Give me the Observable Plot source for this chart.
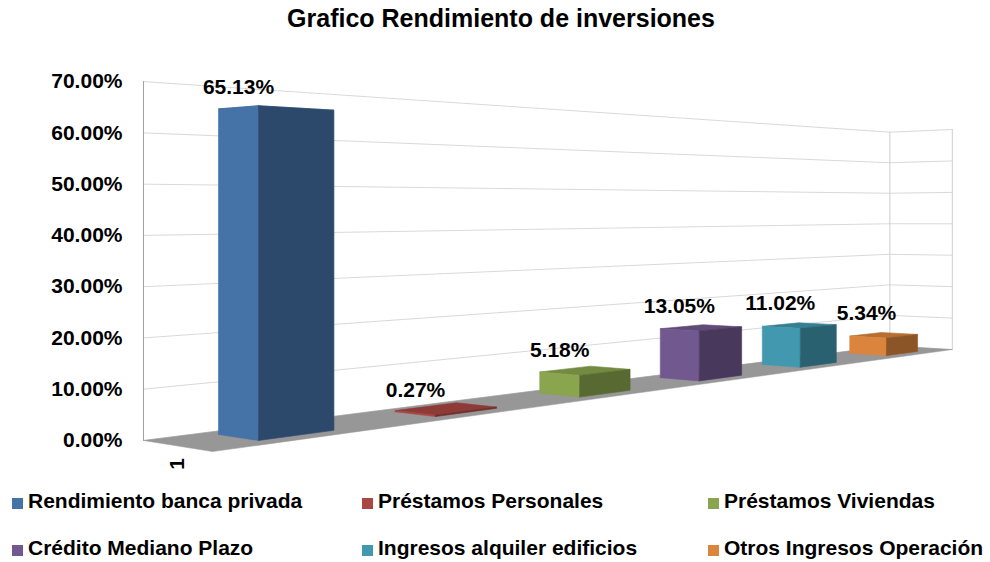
<!DOCTYPE html>
<html><head><meta charset="utf-8">
<script src="https://cdn.jsdelivr.net/npm/d3@7"></script>
<script src="https://cdn.jsdelivr.net/npm/@observablehq/plot@0.6"></script>
<style>
body{margin:0;background:#fff;font-family:"Liberation Sans",Arial,sans-serif;}
#wrap{position:relative;width:990px;height:562px;overflow:hidden;background:#fff;}
#title{position:absolute;left:0;width:1002px;top:6px;text-align:center;font-weight:bold;font-size:25px;line-height:25px;color:#000;}
#chart{position:absolute;left:0;top:40px;}
.lg{position:absolute;font-weight:bold;font-size:21px;line-height:21px;white-space:nowrap;color:#000;}
.sw{position:absolute;width:11px;height:11px;}
</style></head><body>
<div id="wrap"><div id="title">Grafico Rendimiento de inversiones</div><div id="chart"></div><div id="legend"></div></div>
<script>
// ---- data ----
const series = ["Rendimiento banca privada", "Préstamos Personales", "Préstamos Viviendas",
                "Crédito Mediano Plazo", "Ingresos alquiler edificios", "Otros Ingresos Operación"];
const values = [65.13, 0.27, 5.18, 13.05, 11.02, 5.34];
const colors = ["#4572A7", "#AA4643", "#89A54E", "#71588F", "#4198AF", "#DB843D"];
const yTicks = [0, 10, 20, 30, 40, 50, 60, 70];
const categories = ["1"];

// ---- 3D camera (layout) ----
const cam = {x0: 258, axT: 226.6, axV: -33.9, y0: 440, ayT: 23.5, ayV: 6.2, k: 5.14, cT: 0.114, cV: 0.028};
function proj(T, V, H) {
  const w = 1 + cam.cT * T + cam.cV * V;
  return [(cam.x0 + cam.axT * T + cam.axV * V) / w, (cam.y0 + cam.ayT * T + cam.ayV * V - cam.k * H) / w];
}
const svgTop = 40, svgH = 435;
const T0f = -0.306, T1f = 5.67, Vf = -0.4, Vb = 1.337;
const barW = 0.4, barD = 1;
const e0 = proj(T0f, Vb, 0), e70 = proj(T0f, Vb, 70);
const kEdge = (e0[1] - e70[1]) / 70;
const toH = yPage => (e0[1] - yPage) / kEdge;
function pt(T, V, H) { const p = proj(T, V, H); return {x: p[0], y: toH(p[1])}; }

const marks = [];
// wall gridlines
const grid = yTicks.flatMap(h => [pt(T0f, Vb, h), pt(T1f, Vb, h), pt(T1f, Vf, h)].map(p => ({...p, h})));
marks.push(Plot.line(grid, {x: "x", y: "y", z: "h", stroke: "#d9d9d9", strokeWidth: 1}));
const edgesR = [[T1f, Vb], [T1f, Vf]].flatMap(([T, V], j) => [0, 70].map(h => ({...pt(T, V, h), e: j})));
marks.push(Plot.line(edgesR, {x: "x", y: "y", z: "e", stroke: "#cfcfcf", strokeWidth: 1}));
const edgeL = [0, 70].map(h => pt(T0f, Vb, h));
marks.push(Plot.line(edgeL, {x: "x", y: "y", stroke: "#a0a0a0", strokeWidth: 1}));
// floor
const floor = [[T0f, Vf], [T1f, Vf], [T1f, Vb], [T0f, Vb], [T0f, Vf]].map(([T, V]) => pt(T, V, 0));
marks.push(Plot.line(floor, {x: "x", y: "y", fill: "#979797", stroke: "#979797", strokeWidth: 0.5}));
// bars, far to near
for (let i = values.length - 1; i >= 0; i--) {
  const H = values[i], A = i, B = i + barW, c = d3.color(colors[i]);
  const topC = c.darker(0.5).formatHex(), sideC = c.darker(1.25).formatHex(), lightC = c.formatHex();
  const faces = [
    {f: "top", fill: topC, pts: [[A, 0, H], [B, 0, H], [B, barD, H], [A, barD, H]]},
    {f: "left", fill: lightC, pts: [[A, barD, 0], [A, 0, 0], [A, 0, H], [A, barD, H]]},
    {f: "front", fill: sideC, pts: [[A, 0, 0], [B, 0, 0], [B, 0, H], [A, 0, H]]}
  ];
  const rows = faces.flatMap(fc => [...fc.pts, fc.pts[0]].map(([T, V, h]) => ({...pt(T, V, h), face: fc.f, fill: fc.fill})));
  marks.push(Plot.line(rows, {x: "x", y: "y", z: "face", fill: "fill", stroke: "fill", strokeWidth: 0.6}));
}
// data labels
const labelTop = e70[1] + 6;
const labels = values.map((v, i) => {
  const p = proj(i, 0, v);
  return {x: p[0] - 20, y: toH(Math.max(p[1] - 25, labelTop)), text: v.toFixed(2) + "%"};
});
marks.push(Plot.text(labels, {x: "x", y: "y", text: "text", fontSize: 21, fontWeight: "bold", fill: "#000"}));
// category label
const cp = proj(T0f, (Vf + Vb) / 2, 0);
marks.push(Plot.text(categories, {x: () => cp[0], y: () => toH(cp[1] + 18), text: d => d, rotate: -90, fontSize: 21, fontWeight: "bold", fill: "#000"}));
// y axis
marks.push(Plot.axisY({ticks: yTicks, tickSize: 0, tickPadding: 21, tickFormat: d => d.toFixed(2) + "%", fontSize: 21, fontWeight: "bold", fill: "#000", label: null}));

const chart = Plot.plot({
  width: 990, height: svgH,
  marginLeft: Math.round(e0[0]), marginRight: 0, marginTop: 0, marginBottom: 0,
  x: {type: "linear", domain: [0, 990], range: [0, 990], axis: null},
  y: {type: "linear", domain: [0, 70], range: [e0[1] - svgTop, e70[1] - svgTop]},
  color: {type: "identity"},
  style: {fontFamily: '"Liberation Sans", Arial, sans-serif', fontWeight: "bold", color: "#000", background: "transparent", overflow: "visible"},
  marks
});
document.getElementById("chart").appendChild(chart);

// legend
const leg = document.getElementById("legend");
const colX = [12, 362, 708], rowY = [498, 545];
series.forEach((s, i) => {
  const c = i % 3, r = Math.floor(i / 3);
  const sw = document.createElement("div");
  sw.className = "sw"; sw.style.left = colX[c] + "px"; sw.style.top = rowY[r] + "px"; sw.style.background = colors[i];
  const t = document.createElement("div");
  t.className = "lg"; t.textContent = s; t.style.left = (colX[c] + 16) + "px"; t.style.top = (rowY[r] - 8) + "px";
  leg.appendChild(sw); leg.appendChild(t);
});
</script>
</body></html>
